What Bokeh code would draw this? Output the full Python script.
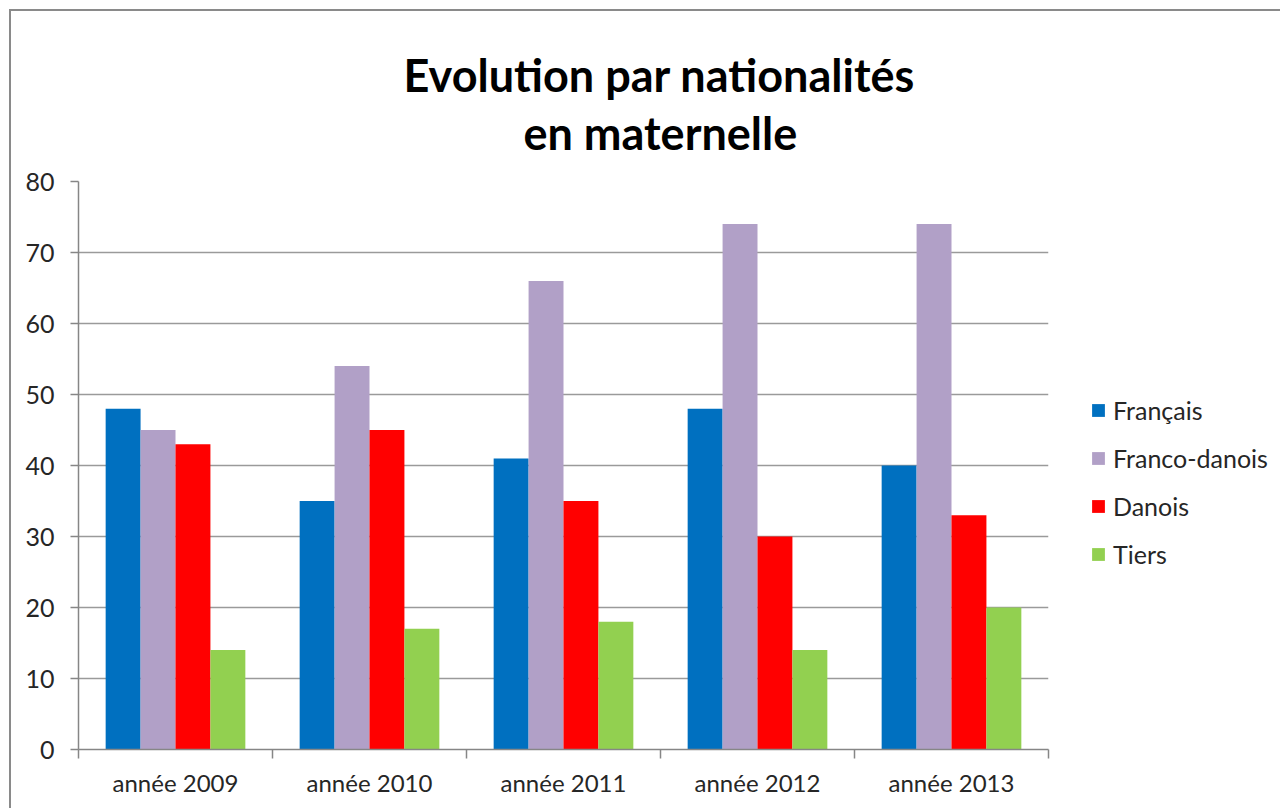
from bokeh.plotting import figure
from bokeh.models import ColumnDataSource, FixedTicker, Legend, LegendItem, Title, Range1d
from bokeh.embed import file_html
from bokeh.resources import INLINE

years = ["année 2009", "année 2010", "année 2011", "année 2012", "année 2013"]
series = ["Français", "Franco-danois", "Danois", "Tiers"]
francais = [48, 35, 41, 48, 40]
franco_danois = [45, 54, 66, 74, 74]
danois = [43, 45, 35, 30, 33]
tiers = [14, 17, 18, 14, 20]
colors = ["#0070C0", "#B1A0C7", "#FF0000", "#92D050"]
y_ticks = [0, 10, 20, 30, 40, 50, 60, 70, 80]

p = figure(frame_width=970, frame_height=568, output_backend="svg", toolbar_location=None,
           x_range=Range1d(0, len(years)), y_range=Range1d(0, 80),
           min_border_left=67, min_border_right=232, min_border_top=170, min_border_bottom=59)
p.styles = {"margin-left": "9px", "margin-top": "9px",
            "border-top": "2px solid #8a8a8a", "border-left": "2px solid #8a8a8a"}
p.outline_line_color = None
p.background_fill_color = "white"
p.border_fill_color = "white"

centers = [i + 0.5 for i in range(len(years))]
bw = 0.18
offsets = [-0.27, -0.09, 0.09, 0.27]
values = [francais, franco_danois, danois, tiers]
renderers = []
for name, vals, off, col in zip(series, values, offsets, colors):
    src = ColumnDataSource(dict(x=[c + off for c in centers], top=vals))
    r = p.vbar(x="x", top="top", bottom=0, width=bw, source=src, fill_color=col, line_color=None)
    renderers.append((name, r))

# axes
xt = FixedTicker(ticks=centers, minor_ticks=list(range(len(years) + 1)))
p.xaxis.ticker = xt
p.xaxis.major_label_overrides = {c: y for c, y in zip(centers, years)}
p.xaxis.major_tick_line_color = None
p.xaxis.minor_tick_line_color = "#868686"
p.xaxis.minor_tick_line_width = 1.5
p.xaxis.minor_tick_out = 9
p.xaxis.minor_tick_in = 0
p.xaxis.axis_line_color = "#868686"
p.xaxis.axis_line_width = 1.5
p.xaxis.major_label_standoff = 9
p.xaxis.major_label_text_font = "Lato"
p.xaxis.major_label_text_font_size = "24px"
p.xaxis.major_label_text_color = "#262626"

p.yaxis.ticker = FixedTicker(ticks=y_ticks)
p.yaxis.major_tick_out = 8
p.yaxis.major_tick_in = 0
p.yaxis.minor_tick_line_color = None
p.yaxis.major_tick_line_color = "#868686"
p.yaxis.major_tick_line_width = 1.5
p.yaxis.axis_line_color = "#868686"
p.yaxis.axis_line_width = 1.5
p.yaxis.major_label_standoff = 16
p.yaxis.major_label_text_font = "Lato"
p.yaxis.major_label_text_font_size = "25px"
p.yaxis.major_label_text_color = "#262626"

p.xgrid.grid_line_color = None
p.ygrid.ticker = FixedTicker(ticks=y_ticks)
p.ygrid.grid_line_color = "#9a9a9a"
p.ygrid.grid_line_width = 1.5

# spacer between frame and title, then the two title lines (nearest first)
p.add_layout(Title(text=" ", text_font_size="2px", standoff=18), "above")
for txt, off, so in [("en maternelle", 445, 0), ("Evolution par nationalités", 325, 4)]:
    p.add_layout(Title(text=txt, align="left", offset=off,
                       text_font="Lato", text_font_style="bold", text_font_size="45px",
                       text_color="black", standoff=so), "above")

legend = Legend(items=[LegendItem(label=n, renderers=[r]) for n, r in renderers],
                location=(42, 180), orientation="vertical",
                border_line_color=None, background_fill_alpha=0,
                padding=0, margin=0, spacing=18, label_standoff=7,
                glyph_width=16, glyph_height=16, label_height=26,
                label_text_font="Lato", label_text_font_size="25px", label_text_color="#262626")
p.add_layout(legend, "right")

open("out.html", "w").write(file_html(p, INLINE))
